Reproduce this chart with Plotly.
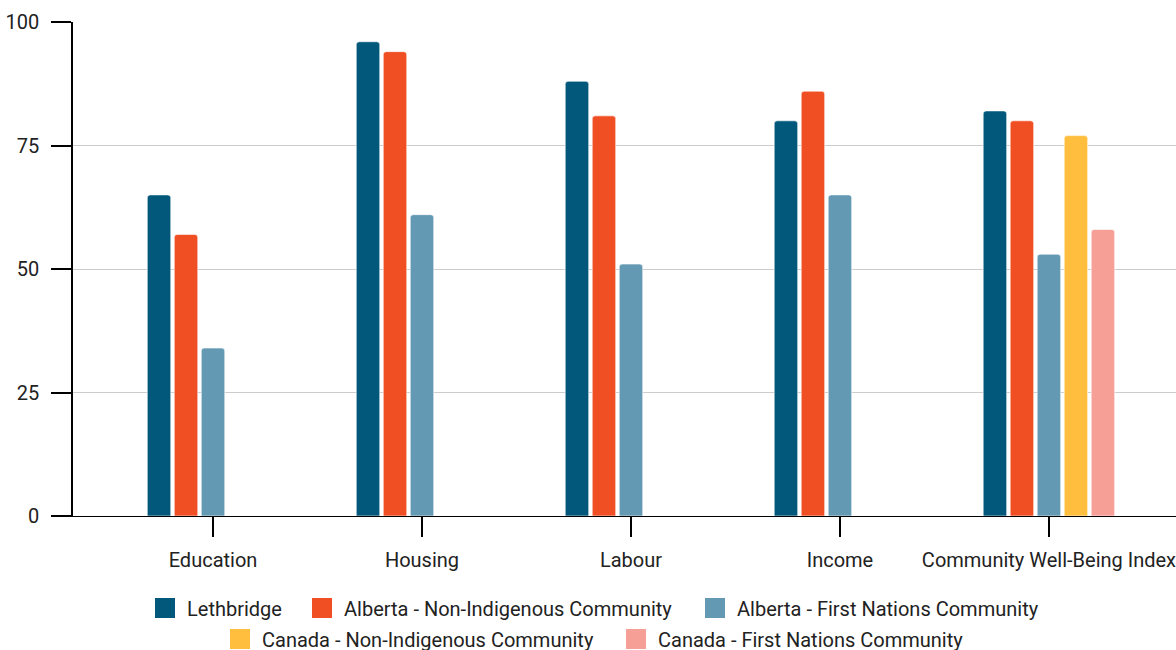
import plotly.graph_objects as go

categories = ["Education", "Housing", "Labour", "Income", "Community Well-Being Index"]
lethbridge = [65, 96, 88, 80, 82]
alberta_non_indigenous = [57, 94, 81, 86, 80]
alberta_first_nations = [34, 61, 51, 65, 53]
canada_non_indigenous = [None, None, None, None, 77]
canada_first_nations = [None, None, None, None, 58]

names = ["Lethbridge", "Alberta - Non-Indigenous Community", "Alberta - First Nations Community",
         "Canada - Non-Indigenous Community", "Canada - First Nations Community"]
values = [lethbridge, alberta_non_indigenous, alberta_first_nations,
          canada_non_indigenous, canada_first_nations]
colors = ["#01587A", "#F04E23", "#6399B3", "#FFBE3D", "#F59F97"]

# legend placement (pixel position of each swatch's left edge, and row centre)
legend_px = [(153, 608), (310, 608), (703, 608), (228, 639), (624, 639)]
legend_ids = ["legend", "legend2", "legend3", "legend4", "legend5"]

fig = go.Figure()
for name, vals, color in zip(names, values, colors):
    fig.add_trace(go.Bar(
        x=categories, y=vals, name=name, showlegend=False,
        marker=dict(color=color, line=dict(color="rgba(255,255,255,0.6)", width=1)),
    ))
for name, color, lg in zip(names, colors, legend_ids):
    fig.add_trace(go.Scatter(
        x=[None], y=[None], name=name, mode="markers", legend=lg,
        marker=dict(symbol="square", size=16, color=color,
                    line=dict(color=color, width=4)),
        showlegend=True, hoverinfo="skip",
    ))

L, T, PW, PH = 73, 22, 1103, 494
font = "Roboto, Arial, sans-serif"
legends = {}
for lg, (px, py) in zip(legend_ids, legend_px):
    legends[lg] = dict(
        orientation="h", xanchor="left", yanchor="middle",
        x=(px - 10 - L) / PW, y=(T + PH - py) / PH,
        font=dict(size=20, color="#222222"),
        bgcolor="rgba(0,0,0,0)", itemwidth=34,
    )

fig.update_layout(
    width=1176, height=650,
    margin=dict(l=L, r=0, t=T, b=650 - T - PH, autoexpand=False),
    paper_bgcolor="white", plot_bgcolor="white",
    barmode="group", bargap=0.354, bargroupgap=0.13,
    barcornerradius=3,
    font=dict(family=font, size=20, color="#222222"),
    showlegend=True,
    xaxis=dict(
        type="category", range=[-0.67, 4.608],
        showline=True, linecolor="black", linewidth=1,
        ticks="outside", ticklen=20, tickcolor="black", tickwidth=1.5,
        showgrid=False, ticklabelstandoff=6,
    ),
    yaxis=dict(
        range=[0, 100], tickvals=[0, 25, 50, 75, 100],
        showline=True, linecolor="black", linewidth=1.5,
        ticks="outside", ticklen=20, tickcolor="black", tickwidth=1.5,
        showgrid=True, gridcolor="#CCCCCC", gridwidth=1,
        zeroline=False, ticklabelstandoff=8,
    ),
    **legends,
)

fig.write_html("out.html")
